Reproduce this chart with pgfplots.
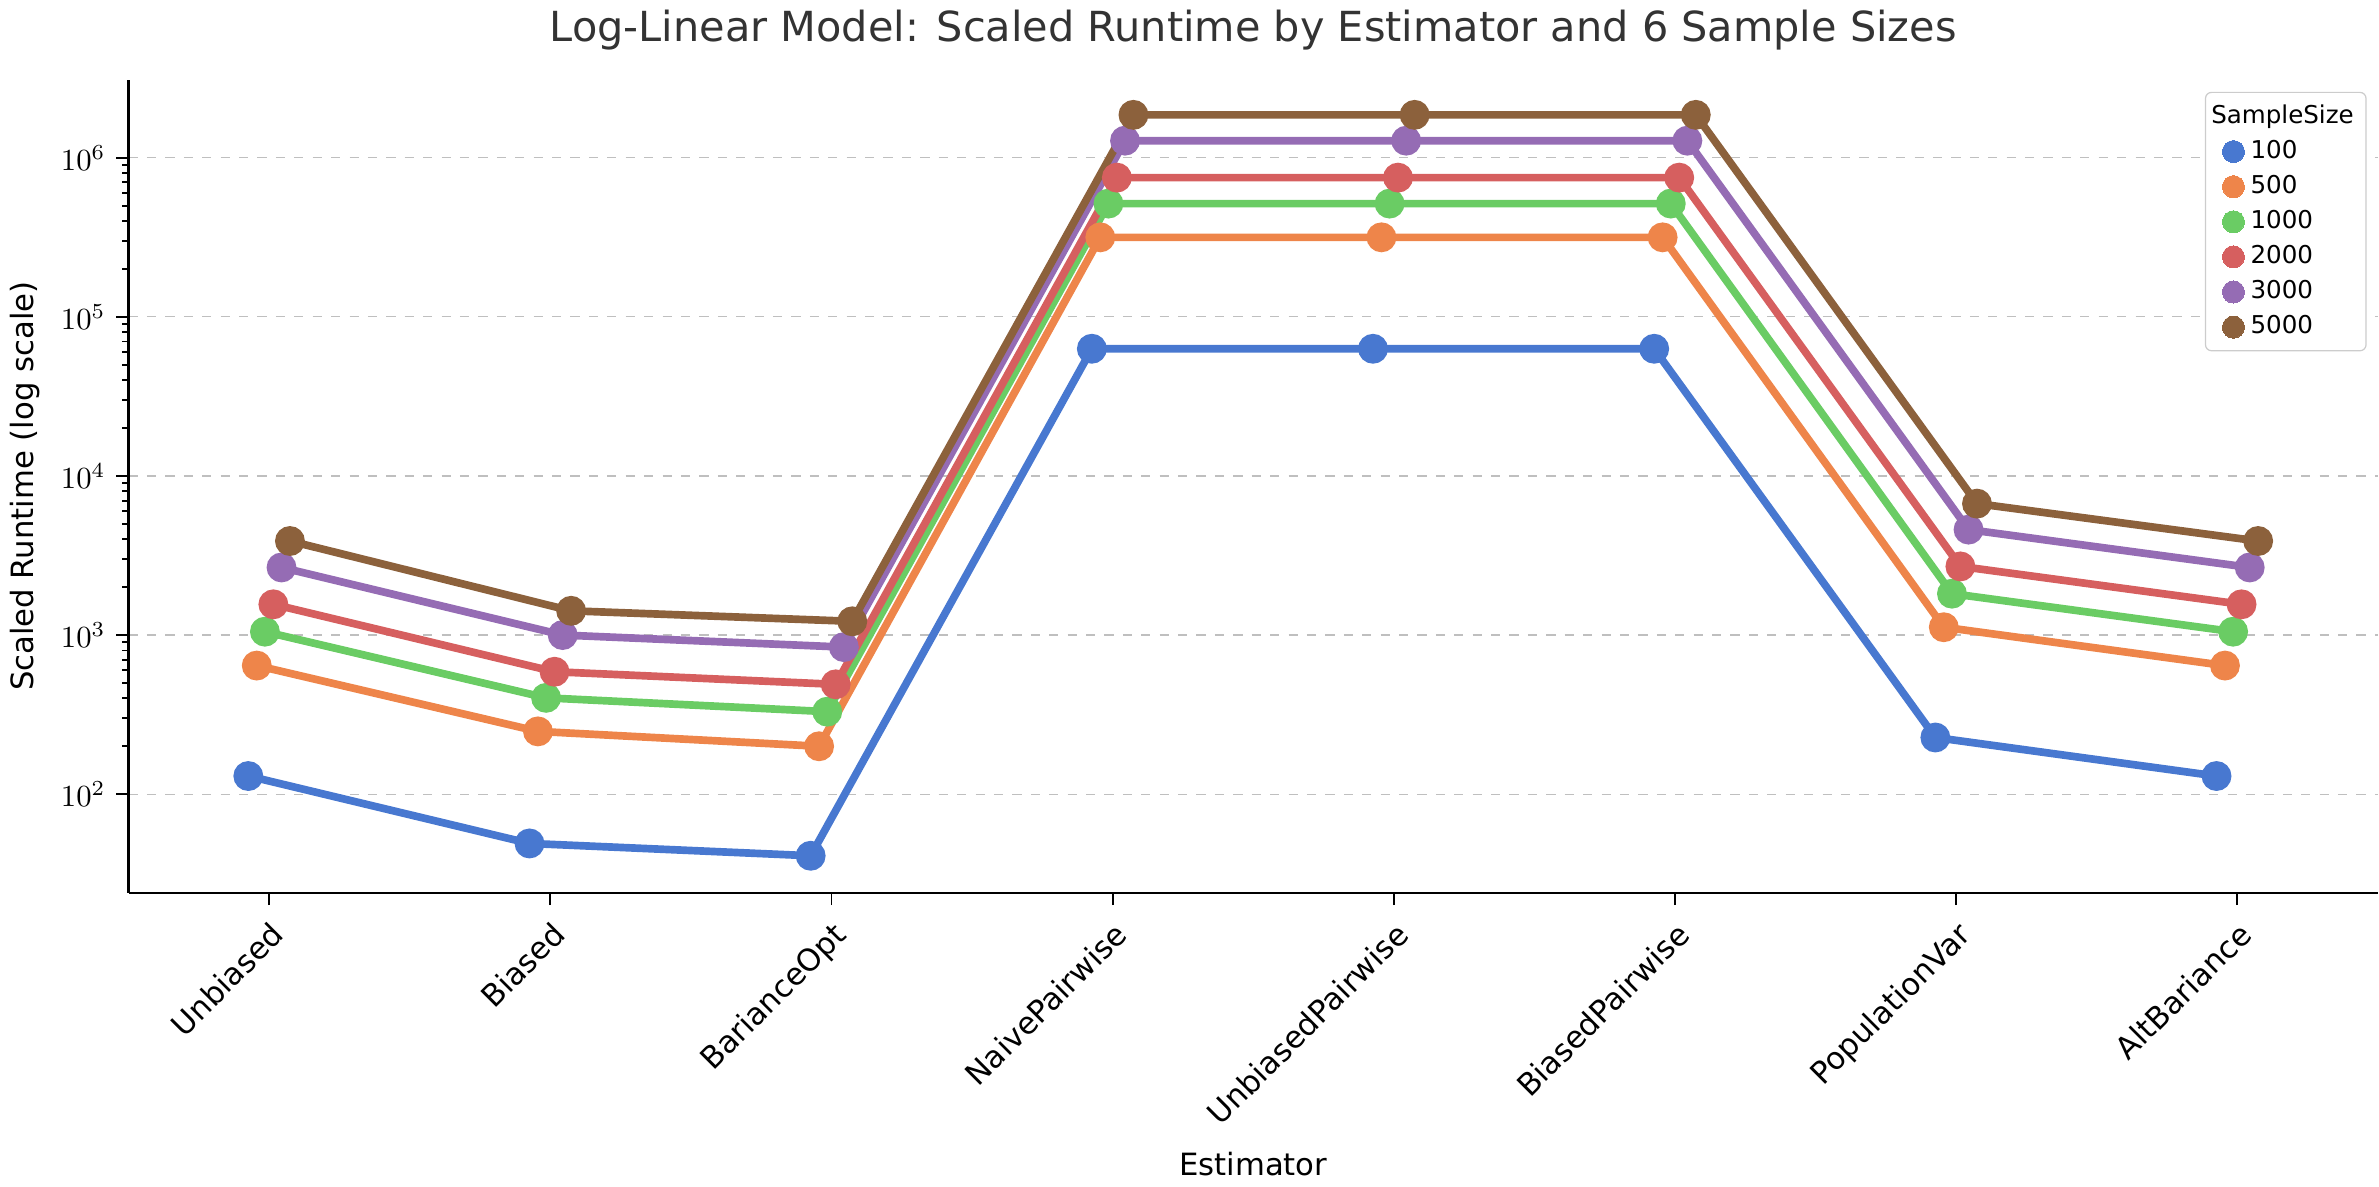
\documentclass[border=0pt]{standalone}
\usepackage{pgfplots}
\pgfplotsset{compat=1.18}
\usepackage{fontspec}
\setmainfont{DejaVu Sans}
\definecolor{c1}{HTML}{4878D0}
\definecolor{c2}{HTML}{EE854A}
\definecolor{c3}{HTML}{6ACC64}
\definecolor{c4}{HTML}{D65F5F}
\definecolor{c5}{HTML}{956CB4}
\definecolor{c6}{HTML}{8C613C}
\begin{document}
\begin{tikzpicture}
\begin{axis}[
  scale only axis, width=733pt, height=265pt,
  ymode=log, ymin=24, ymax=3.1e6,
  xmin=-0.5, xmax=7.5,
  xtick={0,1,2,3,4,5,6,7},
  xticklabels={Unbiased,Biased,BarianceOpt,NaivePairwise,UnbiasedPairwise,BiasedPairwise,PopulationVar,AltBariance},
  xticklabel style={rotate=45, anchor=north east, font=\fontsize{10}{12}\selectfont},
  yticklabel style={font=\fontsize{10}{12}\selectfont},
  ytick={100,1000,10000,100000,1000000},
  axis lines*=left, axis line style={line width=0.7pt},
  tick align=outside, tick style={black, line width=0.6pt},
  major tick length=4pt, minor tick length=2pt,
  ymajorgrids, major grid style={dashed, gray!50, line width=0.4pt},
  xlabel={Estimator}, ylabel={Scaled Runtime (log scale)},
  label style={font=\fontsize{10}{12}\selectfont},
  title={Log-Linear Model: Scaled Runtime by Estimator and 6 Sample Sizes},
  title style={font=\fontsize{13.5}{16}\selectfont, color=black!80},
  every axis plot/.append style={line width=2.5pt, mark=*, mark size=3.6pt},
  legend image code/.code={\draw[#1, draw=none, line width=0pt] plot[mark=*] coordinates {(0.25cm,0cm)};},
  legend style={at={(0.995,0.985)}, anchor=north east, font=\fontsize{8}{10}\selectfont, draw=gray!40, rounded corners=2pt, row sep=0pt, inner sep=2pt},
  legend cell align=left,
]
\addlegendimage{empty legend}\addlegendentry{\hspace{-1.6em}SampleSize}
\addplot[c1] coordinates {(-0.074,130)(0.926,49)(1.926,41)(2.926,63000)(3.926,63000)(4.926,63000)(5.926,227)(6.926,130)};
\addlegendentry{100}
\addplot[c2] coordinates {(-0.044,643)(0.956,248)(1.956,200)(2.956,316000)(3.956,316000)(4.956,316000)(5.956,1120)(6.956,643)};
\addlegendentry{500}
\addplot[c3] coordinates {(-0.015,1050)(0.985,403)(1.985,330)(2.985,515000)(3.985,515000)(4.985,515000)(5.985,1820)(6.985,1050)};
\addlegendentry{1000}
\addplot[c4] coordinates {(0.015,1560)(1.015,588)(2.015,490)(3.015,750000)(4.015,750000)(5.015,750000)(6.015,2700)(7.015,1560)};
\addlegendentry{2000}
\addplot[c5] coordinates {(0.044,2660)(1.044,1000)(2.044,840)(3.044,1280000)(4.044,1280000)(5.044,1280000)(6.044,4600)(7.044,2660)};
\addlegendentry{3000}
\addplot[c6] coordinates {(0.074,3900)(1.074,1420)(2.074,1220)(3.074,1860000)(4.074,1860000)(5.074,1860000)(6.074,6700)(7.074,3900)};
\addlegendentry{5000}
\end{axis}
\end{tikzpicture}
\end{document}
